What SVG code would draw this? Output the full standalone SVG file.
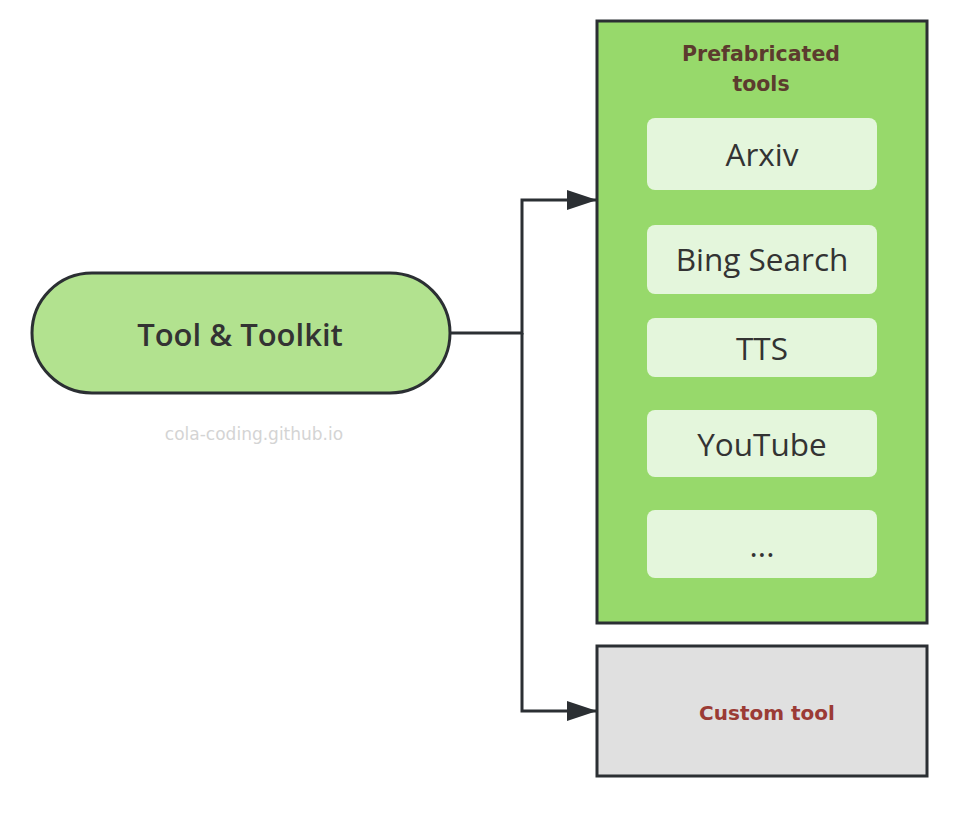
<svg xmlns="http://www.w3.org/2000/svg" width="970" height="814" viewBox="0 0 970 814">
<style>
.box{stroke:#2b2f33;stroke-width:3}
.item{fill:#e4f6dc}
.itxt{font-family:"Open Sans","Noto Sans",sans-serif;font-size:31.5px;fill:#333;text-anchor:middle}
.comic{font-family:"Comic Sans MS","DejaVu Sans",sans-serif;font-weight:bold;text-anchor:middle}
.conn{fill:none;stroke:#2b2f33;stroke-width:3}
</style>
<defs>
<marker id="arr" markerWidth="30" markerHeight="20" refX="30" refY="10" orient="auto" markerUnits="userSpaceOnUse">
<path d="M0,0 L30,10 L0,20 Z" fill="#2b2f33"/>
</marker>
</defs>
<rect width="970" height="814" fill="#fff"/>
<g id="connectors">
<path class="conn" d="M450,333 L522,333 L522,200 L597,200" marker-end="url(#arr)"/>
<path class="conn" d="M522,333 L522,711 L597,711" marker-end="url(#arr)"/>
</g>
<g id="tool-toolkit">
<rect class="box" x="32" y="273" width="418" height="120" rx="60" fill="#b2e28f"/>
<text x="240" y="346" font-family="Open Sans,Noto Sans,sans-serif" font-weight="600" font-size="31" fill="#333" text-anchor="middle">Tool &amp; Toolkit</text>
</g>
<g id="watermark">
<text x="254" y="440" font-family="Comic Sans MS,DejaVu Sans,sans-serif" font-size="17" fill="#d4d4d4" text-anchor="middle">cola-coding.github.io</text>
</g>
<g id="prefabricated">
<rect class="box" x="597" y="21" width="330" height="602" fill="#97d96b"/>
<text class="comic" x="761" y="61" font-size="20.5" fill="#5c3b2e">Prefabricated</text>
<text class="comic" x="761" y="91" font-size="20.5" fill="#5c3b2e">tools</text>
</g>
<g id="arxiv">
<rect class="item" x="647" y="118" width="230" height="72" rx="8"/>
<text class="itxt" x="762" y="166">Arxiv</text>
</g>
<g id="bing">
<rect class="item" x="647" y="225" width="230" height="69" rx="8"/>
<text class="itxt" x="762" y="271">Bing Search</text>
</g>
<g id="tts">
<rect class="item" x="647" y="318" width="230" height="59" rx="8"/>
<text class="itxt" x="762" y="360">TTS</text>
</g>
<g id="youtube">
<rect class="item" x="647" y="410" width="230" height="67" rx="8"/>
<text class="itxt" x="762" y="456">YouTube</text>
</g>
<g id="more">
<rect class="item" x="647" y="510" width="230" height="68" rx="8"/>
<text class="itxt" x="762" y="557">...</text>
</g>
<g id="custom">
<rect class="box" x="597" y="646" width="330" height="130" fill="#e0e0e0"/>
<text class="comic" x="767" y="720" font-size="20" fill="#9b3b35">Custom tool</text>
</g>
</svg>
